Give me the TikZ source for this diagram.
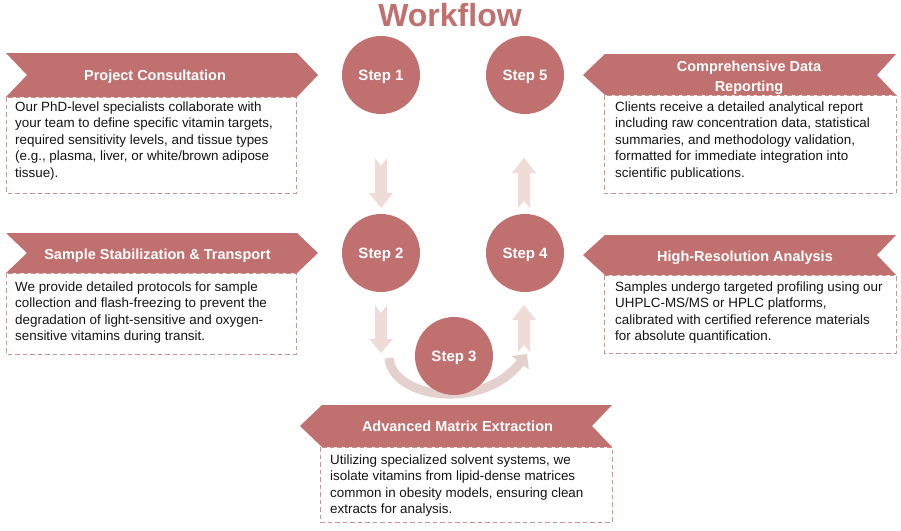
\documentclass[tikz,border=0pt]{standalone}
\usepackage{fontspec}
\setmainfont{Liberation Sans}
\usetikzlibrary{arrows.meta}
\definecolor{rose}{RGB}{192,113,111}
\definecolor{dashc}{RGB}{206,146,144}
\definecolor{arr}{RGB}{239,220,214}
\definecolor{arrc}{RGB}{228,208,205}
\definecolor{bodyc}{RGB}{20,20,20}
\begin{document}
\begin{tikzpicture}[x=1pt,y=-1pt,
  stepnode/.style={circle, fill=rose, minimum size=78pt, inner sep=0pt, text=white,
    text depth=0pt, font=\bfseries\fontsize{15}{18}\selectfont},
  btitle/.style={text=white, font=\bfseries\fontsize{14.5}{20}\selectfont, anchor=base, inner sep=0pt},
  bannerfill/.style={fill=rose, draw=none},
  dbox/.style={draw=dashc, dash pattern=on 4.5pt off 3pt, line width=0.9pt},
  bodytext/.style={anchor=base west, inner sep=0pt, text=bodyc, font=\fontsize{13.4}{16.4}\selectfont},
  blockarr/.style={fill=arr, draw=none}]
\useasboundingbox (0,0) rectangle (901,530);

% title
\node[anchor=base, inner sep=0pt, text=rose, font=\bfseries\fontsize{32}{36}\selectfont] (title) at (450,27) {Workflow};

% dashed boxes
\draw[dbox] (6,97) rectangle (296,193);
\draw[dbox] (6,273) rectangle (296,354);
\draw[dbox] (604,95) rectangle (896,193);
\draw[dbox] (604,275) rectangle (896,353);
\draw[dbox] (320,447) rectangle (612,522);

% banners
\fill[bannerfill] (6,53) -- (297,53) -- (318,75) -- (297,97) -- (6,97) -- (27,75) -- cycle;
\fill[bannerfill] (6,233) -- (297,233) -- (318,253) -- (297,273) -- (6,273) -- (27,253) -- cycle;
\fill[bannerfill] (583,75) -- (605,54) -- (896,54) -- (877,75) -- (896,95) -- (605,95) -- cycle;
\fill[bannerfill] (583,255) -- (605,235) -- (896,235) -- (877,255) -- (896,275) -- (605,275) -- cycle;
\fill[bannerfill] (300,426) -- (322,405) -- (612,405) -- (592,426) -- (612,447) -- (322,447) -- cycle;

% banner titles
\node[btitle] (h1) at (155,80) {Project Consultation};
\node[btitle] (h2) at (157.5,259) {Sample Stabilization \& Transport};
\node[btitle] (h5) at (749,71.5) {\parbox[t]{220pt}{\centering Comprehensive Data\\Reporting}};
\node[btitle] (h4) at (745,261.5) {High-Resolution Analysis};
\node[btitle] (h3) at (457.5,431.5) {Advanced Matrix Extraction};

% body texts
\node[bodytext] (t1) at (15,111.5) {\parbox[t]{285pt}{Our PhD-level specialists collaborate with\\your team to define specific vitamin targets,\\required sensitivity levels, and tissue types\\(e.g., plasma, liver, or white/brown adipose\\tissue).}};
\node[bodytext] (t2) at (15,291.5) {\parbox[t]{285pt}{We provide detailed protocols for sample\\collection and flash-freezing to prevent the\\degradation of light-sensitive and oxygen-\\sensitive vitamins during transit.}};
\node[bodytext] (t5) at (615,111.5) {\parbox[t]{285pt}{Clients receive a detailed analytical report\\including raw concentration data, statistical\\summaries, and methodology validation,\\formatted for immediate integration into\\scientific publications.}};
\node[bodytext] (t4) at (615,291.5) {\parbox[t]{285pt}{Samples undergo targeted profiling using our\\UHPLC-MS/MS or HPLC platforms,\\calibrated with certified reference materials\\for absolute quantification.}};
\node[bodytext] (t3) at (330,464.5) {\parbox[t]{285pt}{Utilizing specialized solvent systems, we\\isolate vitamins from lipid-dense matrices\\common in obesity models, ensuring clean\\extracts for analysis.}};

% block arrows
\fill[blockarr] (375,158) -- (381,166) -- (387,158) -- (387,193) -- (393,193) -- (381,208) -- (369,193) -- (375,193) -- cycle;
\fill[blockarr] (524,158) -- (536,173) -- (530,173) -- (530,208) -- (524,201) -- (518,208) -- (518,173) -- (512,173) -- cycle;
\fill[blockarr] (375,305) -- (381,313) -- (387,305) -- (387,339) -- (393,339) -- (381,353) -- (369,339) -- (375,339) -- cycle;
\fill[blockarr] (524,305) -- (536,320) -- (530,320) -- (530,352) -- (524,345) -- (518,352) -- (518,320) -- (512,320) -- cycle;

% curved arrow
\coordinate (cs) at (389,358);
\coordinate (ce) at (527,354);
\draw[arrc, line width=9pt, -{Triangle[length=11pt,width=21pt]}] (cs) .. controls (392,398) and (482,412) .. (ce);

% steps
\node[stepnode] (s1) at (381,75) {Step 1};
\node[stepnode] (s5) at (525,75) {Step 5};
\node[stepnode] (s2) at (381,253) {Step 2};
\node[stepnode] (s4) at (525,253) {Step 4};
\node[stepnode] (s3) at (454,356) {Step 3};
\end{tikzpicture}
\end{document}
